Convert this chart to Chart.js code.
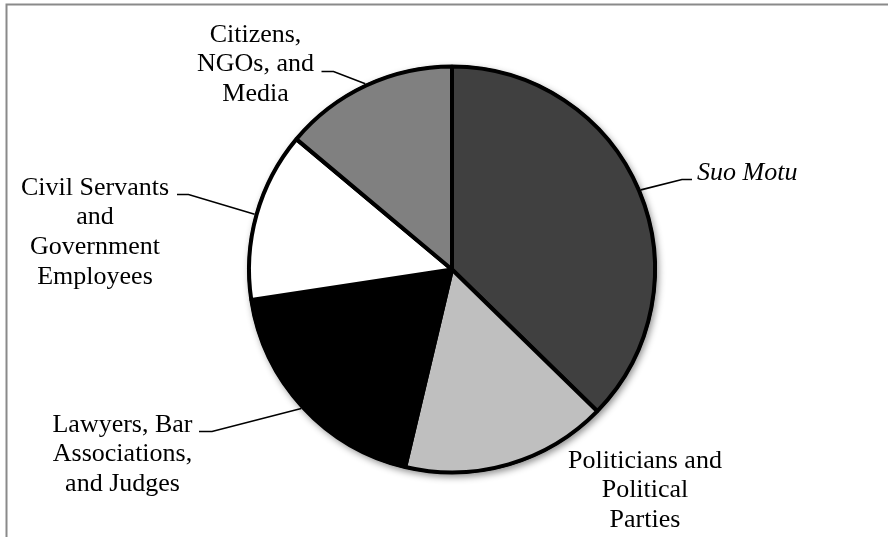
<!DOCTYPE html>
<html>
<head>
<meta charset="utf-8">
<script src="https://cdn.jsdelivr.net/npm/chart.js@4/dist/chart.umd.min.js"></script>
<style>
  html, body { margin: 0; padding: 0; background: #ffffff; }
  #wrap { position: relative; width: 888px; height: 537px; }
</style>
</head>
<body>
<div id="wrap"><canvas id="c" width="888" height="537"></canvas></div>
<script>
// ---- data ----
const categories = [
  'Suo Motu',
  'Politicians and Political Parties',
  'Lawyers, Bar Associations, and Judges',
  'Civil Servants and Government Employees',
  'Citizens, NGOs, and Media'
];
const shares = [37.3, 16.4, 18.9, 13.5, 13.9];
const sliceColors = ['#404040', '#bfbfbf', '#000000', '#ffffff', '#808080'];
const labelLines = [
  ['Suo Motu'],
  ['Politicians and', 'Political', 'Parties'],
  ['Lawyers, Bar', 'Associations,', 'and Judges'],
  ['Civil Servants', 'and', 'Government', 'Employees'],
  ['Citizens,', 'NGOs, and', 'Media']
];

// ---- label layout (positions only) ----
const labelLayout = [
  { x: 697, y: 180, align: 'left', italic: true, leader: { bend: [682, 179.5], end: [692, 179.5] } },
  { x: 645, y: 467.5, align: 'center', italic: false, leader: null },
  { x: 122.5, y: 431.5, align: 'center', italic: false, leader: { bend: [212, 431.5], end: [199, 431.5] } },
  { x: 95, y: 194.5, align: 'center', italic: false, leader: { bend: [188.5, 194.5], end: [177, 194.5] } },
  { x: 255.5, y: 41.5, align: 'center', italic: false, leader: { bend: [333.5, 71.5], end: [321.5, 71.5] } }
];
const lineGap = 29.8;
const fontFamily = '"Liberation Serif", "Times New Roman", serif';

const framePlugin = {
  id: 'frame',
  beforeDraw(chart) {
    const ctx = chart.ctx;
    ctx.save();
    ctx.strokeStyle = '#8a8a8a';
    ctx.lineWidth = 2;
    ctx.beginPath();
    ctx.moveTo(888, 4.5);
    ctx.lineTo(6.5, 4.5);
    ctx.lineTo(6.5, 537);
    ctx.stroke();
    ctx.restore();
  }
};

const shadowPlugin = {
  id: 'pieShadow',
  beforeDatasetsDraw(chart) {
    const arc = chart.getDatasetMeta(0).data[0];
    if (!arc) return;
    const p = arc.getProps(['x', 'y', 'outerRadius'], true);
    const ctx = chart.ctx;
    ctx.save();
    ctx.shadowColor = 'rgba(0,0,0,0.45)';
    ctx.shadowBlur = 7;
    ctx.shadowOffsetX = 2;
    ctx.shadowOffsetY = 3;
    ctx.fillStyle = '#000';
    ctx.beginPath();
    ctx.arc(p.x, p.y, p.outerRadius + 1.5, 0, Math.PI * 2);
    ctx.fill();
    ctx.restore();
  }
};

const labelPlugin = {
  id: 'sliceLabels',
  afterDatasetsDraw(chart) {
    const ctx = chart.ctx;
    const meta = chart.getDatasetMeta(0);
    ctx.save();
    meta.data.forEach((arc, i) => {
      const p = arc.getProps(['x', 'y', 'startAngle', 'endAngle', 'outerRadius'], true);
      const L = labelLayout[i];
      if (L.leader) {
        const mid = (p.startAngle + p.endAngle) / 2;
        const r = p.outerRadius + 2;
        const sx = p.x + Math.cos(mid) * r;
        const sy = p.y + Math.sin(mid) * r;
        ctx.strokeStyle = '#000';
        ctx.lineWidth = 1.6;
        ctx.beginPath();
        ctx.moveTo(sx, sy);
        ctx.lineTo(L.leader.bend[0], L.leader.bend[1]);
        ctx.lineTo(L.leader.end[0], L.leader.end[1]);
        ctx.stroke();
      }
      ctx.fillStyle = '#000';
      ctx.font = (L.italic ? 'italic ' : '') + '26px ' + fontFamily;
      ctx.textAlign = L.align;
      ctx.textBaseline = 'alphabetic';
      labelLines[i].forEach((t, k) => {
        ctx.fillText(t, L.x, L.y + k * lineGap);
      });
    });
    ctx.restore();
  }
};

new Chart(document.getElementById('c'), {
  type: 'pie',
  data: {
    labels: categories,
    datasets: [{
      data: shares,
      backgroundColor: sliceColors,
      borderColor: '#000000',
      borderWidth: 4,
      hoverOffset: 0
    }]
  },
  options: {
    responsive: false,
    animation: false,
    radius: 203,
    layout: { padding: { left: 16, top: 2, right: 0, bottom: 0 } },
    plugins: {
      legend: { display: false },
      tooltip: { enabled: false }
    }
  },
  plugins: [framePlugin, shadowPlugin, labelPlugin]
});
</script>
</body>
</html>
